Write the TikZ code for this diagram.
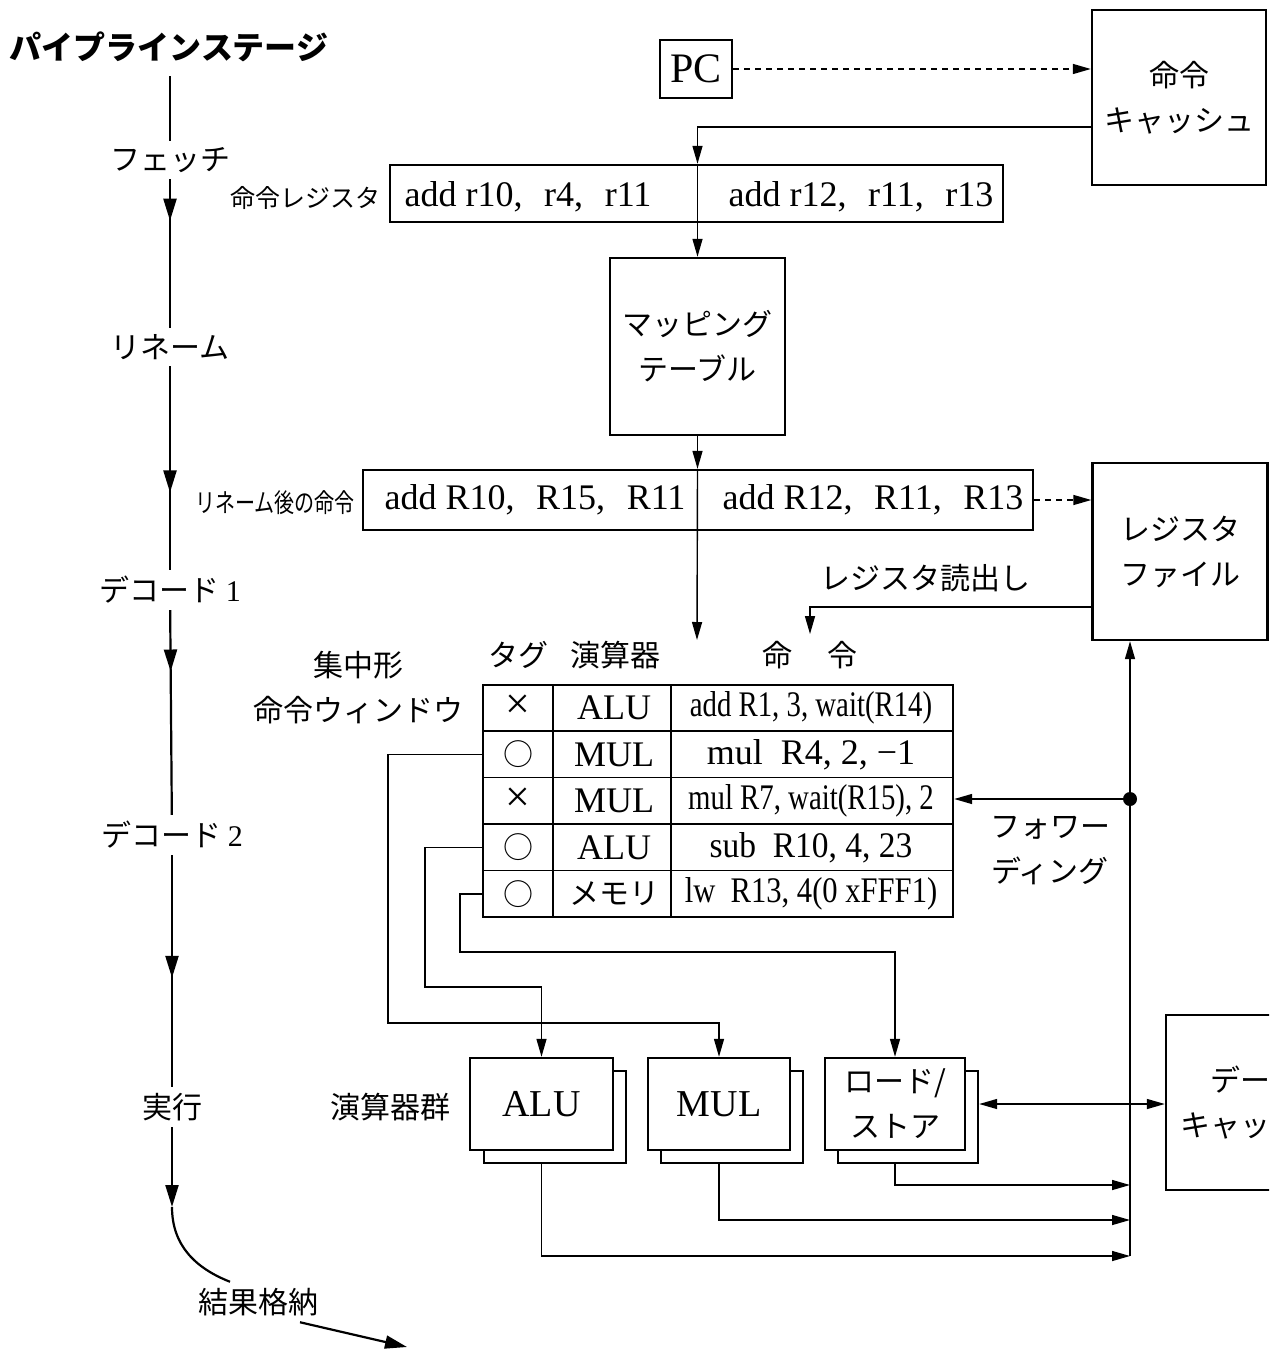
\documentclass[tikz,border=0pt]{standalone}
\usepackage{fontspec}
\usepackage{graphicx}
\setmainfont{Liberation Serif}
\newfontfamily\jp{Noto Sans CJK JP}
\usetikzlibrary{arrows.meta,decorations.markings,calc}
\begin{document}
\begin{tikzpicture}[x=0.5pt,y=-0.5pt,
  box/.style={draw, line width=1.2pt, inner sep=0pt, align=center, fill=white},
  con/.style={line width=0.7pt},
  arr/.style={con, -{Triangle[length=9pt,width=5pt]}},
  darr/.style={con, dash pattern=on 3pt off 2.5pt, -{Triangle[length=9pt,width=5pt]}},
  pipe/.style={line width=1.1pt},
  midarrow/.style={postaction={decorate}, decoration={markings, mark=at position #1 with {\arrow{Triangle[length=11pt,width=6.5pt]}}}},
  stage/.style={font=\jp\fontsize{15}{18}\selectfont, inner sep=3pt},
  jlab/.style={font=\jp\fontsize{15}{22.5}\selectfont, align=center},
  jbox/.style={box, font=\jp\fontsize{15}{22.5}\selectfont},
  code/.style={font=\fontsize{18}{20}\selectfont, inner sep=1pt},
  cell/.style={font=\fontsize{18}{20}\selectfont, inner sep=0pt},
  jcell/.style={font=\jp\fontsize{15}{18}\selectfont, inner sep=0pt},
  unitbox/.style={box, font=\fontsize{19}{22}\selectfont, minimum height=46pt},
  shadowbox/.style={line width=1.2pt, fill=white}
]
\useasboundingbox (0,0) rectangle (1269,1354);
\clip (0,0) rectangle (1269,1354);

% ---------------- pipeline stages ----------------
\node[font=\jp\bfseries\fontsize{16}{19}\selectfont, inner sep=2pt] (title) at (169,47) {パイプラインステージ};
\node[stage] (fetch) at (170,160) {フェッチ};
\node[stage] (rename) at (170,347) {リネーム};
\node[stage] (dec1) at (170,590) {デコード {\rmfamily 1}};
\node[stage] (dec2) at (172,835) {デコード {\rmfamily 2}};
\node[stage] (exec) at (172,1107) {実行};
\node[stage] (wb) at (258,1302) {結果格納};
\coordinate (exectip) at (172,1207);
\coordinate (wbend) at (407,1347);

\draw[pipe, shorten <=5pt] (title.south -| fetch.north) -- (fetch.north);
\draw[pipe, midarrow=0.28] (fetch) -- (rename);
\draw[pipe, midarrow=0.62] (rename) -- (dec1);
\draw[pipe, midarrow=0.30] (dec1) -- (dec2);
\draw[pipe, midarrow=0.53] (dec2) -- (exec);
\draw[pipe, -{Triangle[length=11pt,width=6.5pt]}] (exec) -- (exectip);
\draw[pipe] (exectip) .. controls (172,1245) and (195,1268) .. ([shift={(-28,0)}]wb.north);
\draw[pipe, -{Triangle[length=11pt,width=6.5pt]}] ([shift={(42,0)}]wb.south) -- (wbend);

% ---------------- fetch ----------------
\node[box, font=\fontsize{21}{24}\selectfont, minimum width=36pt, minimum height=29pt] (pc) at (696,69) {PC};
\node[jbox, minimum width=87pt, minimum height=87.5pt] (icache) at (1179,97.5) {命令\\キャッシュ};
\node[box, minimum width=306.5pt, minimum height=28.5pt] (ireg) at (696.5,193.5) {};
\node[code] (ireg1) at (528,197) {add r10,\hspace{0.6em}r4,\hspace{0.6em}r11};
\node[code] (ireg2) at (861,197) {add r12,\hspace{0.6em}r11,\hspace{0.6em}r13};
\node[font=\jp\fontsize{12.5}{15}\selectfont, anchor=east, inner sep=0pt] (iregl) at (381,198) {命令レジスタ};

% ---------------- rename ----------------
\node[jbox, minimum width=87.5pt, minimum height=88.5pt] (map) at (697.5,346.5) {マッピング\\テーブル};
\node[box, minimum width=335pt, minimum height=30pt] (rn) at (698,500) {};
\node[code] (rn1) at (535,500) {add R10,\hspace{0.6em}R15,\hspace{0.6em}R11};
\node[code] (rn2) at (873,500) {add R12,\hspace{0.6em}R11,\hspace{0.6em}R13};
\node[anchor=east, inner sep=0pt, font=\jp\fontsize{13}{15}\selectfont] (rnl) at (355,503) {\scalebox{0.77}[1]{リネーム後の命令}};
\node[jbox, minimum width=87.5pt, minimum height=88.5pt] (rf) at (1180,551.5) {レジスタ\\ファイル};
\node[jlab] (rfread) at (925,578) {レジスタ読出し};

\draw[darr] (pc) -- (pc -| icache.west);
\draw[arr] ([yshift=-14.75pt]icache.west) -| (map.north |- ireg.north);

\coordinate (winin) at (697,640);
\draw[arr] (map.north |- ireg.north) -- (map.north);
\draw[arr] (map.south) -- (map.south |- rn.north);
\draw[arr] (map.south |- rn.north) -- (winin);
\draw[darr] (rn.east) -- (rn.east -| rf.west);

% ---------------- instruction window ----------------
\node[jlab] (htag) at (518,655) {タグ};
\node[jlab] (hop) at (615,655) {演算器};
\node[jlab] (hinst) at (810,655) {命\hspace{1.2em}令};
\node[jlab] (winl) at (358,688) {集中形\\命令ウィンドウ};

\draw[arr] ([yshift=-27.75pt]rf.west) -| (hinst.north);

\node[box, minimum width=235pt, minimum height=116pt] (win) at (718,801) {};
\draw[con] (553,685) -- (553,917);
\draw[con] (671,685) -- (671,917);
\foreach \yy in {731,777.5,824,870.5} \draw[con] (483,\yy) -- (953,\yy);

\node[cell, font=\fontsize{22}{24}\selectfont] (t1) at (518,707) {×};
\node[jcell] (t2) at (518,754.5) {○};
\node[cell, font=\fontsize{22}{24}\selectfont] (t3) at (518,800) {×};
\node[jcell] (t4) at (518,847.5) {○};
\node[jcell] (t5) at (518,894) {○};

\node[cell] (o1) at (614,708) {ALU};
\node[cell] (o2) at (614,754.5) {MUL};
\node[cell] (o3) at (614,801) {MUL};
\node[cell] (o4) at (614,847.5) {ALU};
\node[jcell] (o5) at (614,894) {メモリ};

\node[cell] (i1) at (811,708) {\scalebox{0.8}[1]{add R1, 3, wait(R14)}};
\node[cell] (i2) at (811,754.5) {mul\ \ R4, 2, −1};
\node[cell] (i3) at (811,801) {\scalebox{0.8}[1]{mul R7, wait(R15), 2}};
\node[cell] (i4) at (811,847.5) {\scalebox{0.93}[1]{sub\ \ R10, 4, 23}};
\node[cell] (i5) at (811,894) {\scalebox{0.85}[1]{lw\ \ R13, 4(0 xFFF1)}};

% ---------------- forwarding ----------------
\coordinate (fwd) at (1130,799);
\coordinate (busbot) at (1130,1256);
\node[jlab] (fwl) at (1050,851) {フォワー\\ディング};
\draw[arr] (fwd) -- (fwd -| win.east);
\draw[arr] (busbot) -- (rf.south -| busbot);
\fill (fwd) circle (3.5pt);

% ---------------- functional units ----------------
\draw[shadowbox] (484,1071) rectangle (626,1163);
\draw[shadowbox] (661,1071) rectangle (803,1163);
\draw[shadowbox] (838,1071) rectangle (978,1163);
\node[unitbox, minimum width=71.5pt] (alu) at (541.5,1104) {ALU};
\node[unitbox, minimum width=71pt] (mul) at (719,1104) {MUL};
\node[jbox, minimum width=70pt, minimum height=46pt] (ls) at (895,1104) {ロード/\\ストア};
\node[jlab] (units) at (390,1107) {演算器群};
\node[box, minimum width=89pt, minimum height=87.5pt] (dc) at (1255,1102.5) {};
\node[jlab, align=left, anchor=west, inner sep=0pt] (dct) at (1180,1103) {\hspace{1em}デー\\キャッ};

\draw[arr] (win.west |- t2) -- (388,754.5) -- (388,1023) -| (mul.north);
\draw[arr] (win.west |- t4) -- (425,847.5) -- (425,987) -| (alu.north);
\draw[arr] (win.west |- t5) -- (460,894) -- (460,952) -| (ls.north);

\draw[arr] ([yshift=-6.5pt]ls.south) |- (busbot |- 0,1185);
\draw[arr] ([yshift=-6.5pt]mul.south) |- (busbot |- 0,1220);
\draw[arr] ([yshift=-6.5pt]alu.south) |- (busbot);
\draw[con, {Triangle[length=9pt,width=5pt]}-{Triangle[length=9pt,width=5pt]}] ([xshift=6.5pt]ls.east) -- (ls.east -| dc.west);
\end{tikzpicture}
\end{document}
